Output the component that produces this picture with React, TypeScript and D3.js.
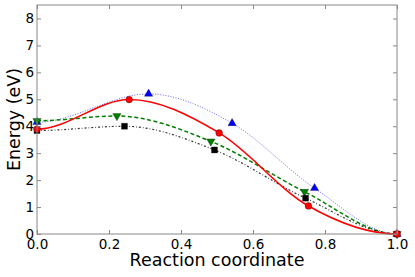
import React, { useEffect, useRef } from 'react';
import * as d3 from 'd3';

// reaction coordinate and energy (eV) of each image, per series
const redX = [0, 0.256, 0.506, 0.754, 1.0];
const redY = [3.89, 4.99, 3.75, 1.04, 0];
const blueX = [0, 0.31, 0.542, 0.771, 1.0];
const blueY = [4.15, 5.2, 4.11, 1.7, 0];
const greenX = [0, 0.222, 0.483, 0.743, 1.0];
const greenY = [4.2, 4.38, 3.44, 1.57, 0];
const blackX = [0, 0.243, 0.493, 0.746, 1.0];
const blackY = [3.84, 4.0, 3.12, 1.33, 0];

const xTicks = [0, 0.2, 0.4, 0.6, 0.8, 1.0];
const yTicks = [0, 1, 2, 3, 4, 5, 6, 7, 8];

// hermite spline with flat tangents at both ends (monotone inside)
const curveFlatEnds = (context: any) => {
  let xs: number[] = [];
  let ys: number[] = [];
  return {
    areaStart() {},
    areaEnd() {},
    lineStart() { xs = []; ys = []; },
    point(x: number, y: number) { xs.push(+x); ys.push(+y); },
    lineEnd() {
      const n = xs.length;
      if (!n) return;
      const m = new Array(n).fill(0);
      for (let i = 1; i < n - 1; i++) {
        const h0 = xs[i] - xs[i - 1], h1 = xs[i + 1] - xs[i];
        const s0 = (ys[i] - ys[i - 1]) / h0, s1 = (ys[i + 1] - ys[i]) / h1;
        if (s0 * s1 <= 0) continue;
        const p = (s0 * h1 + s1 * h0) / (h0 + h1);
        m[i] = (Math.sign(s0) + Math.sign(s1)) * Math.min(Math.abs(s0), Math.abs(s1), 0.5 * Math.abs(p));
      }
      context.moveTo(xs[0], ys[0]);
      for (let i = 0; i < n - 1; i++) {
        const dx = (xs[i + 1] - xs[i]) / 3;
        context.bezierCurveTo(xs[i] + dx, ys[i] + m[i] * dx, xs[i + 1] - dx, ys[i + 1] - m[i + 1] * dx, xs[i + 1], ys[i + 1]);
      }
    },
  };
};

const App = () => {
  const svgRef = useRef<SVGSVGElement>(null);

  useEffect(() => {
    const width = 415;
    const height = 277;
    const marginTop = 5;
    const marginRight = 18;
    const marginBottom = 43;
    const marginLeft = 37;
    const frame = '#888888';

    const x = d3.scaleLinear().domain([0, 1]).range([marginLeft, width - marginRight]);
    const y = d3.scaleLinear().domain([0, 8.5]).range([height - marginBottom, marginTop]);

    const svg = d3.select(svgRef.current)
      .attr('width', width)
      .attr('height', height)
      .attr('viewBox', [0, 0, width, height] as any)
      .style('font-family', 'DejaVu Sans');
    svg.selectAll('*').remove();

    const series = [
      { xs: blueX, ys: blueY, color: '#0000ff', width: 1, dash: '1,1.6', opacity: 0.6, marker: 'up' },
      { xs: greenX, ys: greenY, color: '#008000', width: 1.5, dash: '4,2.5', opacity: 1, marker: 'down' },
      { xs: blackX, ys: blackY, color: '#000000', width: 1.2, dash: '2,2,0.8,2', opacity: 0.8, marker: 'square' },
      { xs: redX, ys: redY, color: '#ff0000', width: 1.5, dash: null, opacity: 1, marker: 'circle' },
    ];

    const line = d3.line<number>()
      .x((d) => x(d))
      .curve(curveFlatEnds as any);

    series.forEach((s) => {
      svg.append('path')
        .datum(s.xs)
        .attr('fill', 'none')
        .attr('stroke', s.color)
        .attr('stroke-width', s.width)
        .attr('stroke-opacity', s.opacity)
        .attr('stroke-dasharray', s.dash)
        .attr('d', line.y((d, i) => y(s.ys[i])) as any);
    });

    const sym = {
      up: d3.symbol(d3.symbolTriangle, 30),
      down: d3.symbol(d3.symbolTriangle, 30),
      square: d3.symbol(d3.symbolSquare, 36),
      circle: d3.symbol(d3.symbolCircle, 36),
    } as any;

    series.forEach((s) => {
      svg.append('g')
        .selectAll('path')
        .data(s.xs)
        .join('path')
        .attr('transform', (d, i) => `translate(${x(d)},${y(s.ys[i])})${s.marker === 'down' ? ' rotate(180)' : ''}`)
        .attr('d', sym[s.marker]())
        .attr('fill', s.color)
        .attr('stroke', '#000')
        .attr('stroke-width', 0.3);
    });

    // frame
    svg.append('rect')
      .attr('x', marginLeft)
      .attr('y', marginTop)
      .attr('width', width - marginLeft - marginRight)
      .attr('height', height - marginTop - marginBottom)
      .attr('fill', 'none')
      .attr('stroke', frame)
      .attr('stroke-width', 1);

    const tickLen = 4;
    const bottom = svg.append('g')
      .attr('transform', `translate(0,${height - marginBottom})`)
      .call(d3.axisBottom(x).tickValues(xTicks).tickFormat(d3.format('.1f')).tickSizeInner(-tickLen).tickSizeOuter(0).tickPadding(5.5));
    const top = svg.append('g')
      .attr('transform', `translate(0,${marginTop})`)
      .call(d3.axisTop(x).tickValues(xTicks).tickSizeInner(-tickLen).tickSizeOuter(0).tickFormat(() => ''));
    const left = svg.append('g')
      .attr('transform', `translate(${marginLeft},0)`)
      .call(d3.axisLeft(y).tickValues(yTicks).tickFormat(d3.format('d')).tickSizeInner(-tickLen).tickSizeOuter(0).tickPadding(3));
    const right = svg.append('g')
      .attr('transform', `translate(${width - marginRight},0)`)
      .call(d3.axisRight(y).tickValues(yTicks).tickSizeInner(-tickLen).tickSizeOuter(0).tickFormat(() => ''));

    [bottom, top, left, right].forEach((g) => {
      g.select('.domain').remove();
      g.selectAll('line').attr('stroke', frame);
      g.selectAll('text')
        .attr('fill', '#000')
        .style('font-family', 'DejaVu Sans')
        .style('font-size', '13.5px');
    });

    svg.append('text')
      .attr('x', (marginLeft + width - marginRight) / 2)
      .attr('y', 266)
      .attr('text-anchor', 'middle')
      .style('font-size', '17.5px')
      .text('Reaction coordinate');

    svg.append('text')
      .attr('transform', `translate(20,${(marginTop + height - marginBottom) / 2}) rotate(-90)`)
      .attr('text-anchor', 'middle')
      .style('font-size', '17.5px')
      .text('Energy (eV)');
  }, []);

  return (
    <div style={{ position: 'absolute', left: 0, top: 0 }}>
      <svg ref={svgRef} style={{ display: 'block' }}></svg>
    </div>
  );
};

export default App;
